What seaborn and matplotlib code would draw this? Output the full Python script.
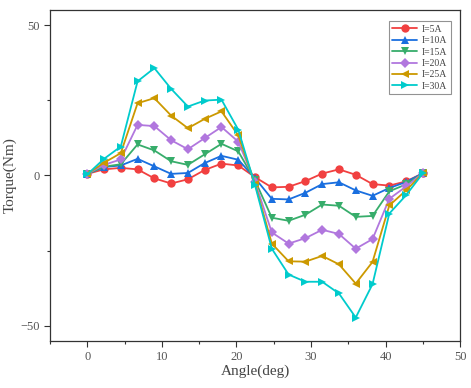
import numpy as np
import pandas as pd
import matplotlib
matplotlib.use("Agg")
import matplotlib.pyplot as plt
from matplotlib.ticker import MultipleLocator
import seaborn as sns

# Rotor angle (deg), 21 samples
angle = [0, 2.25, 4.5, 6.75, 9, 11.25, 13.5, 15.75, 18, 20.25, 22.5,
         24.75, 27, 29.25, 31.5, 33.75, 36, 38.25, 40.5, 42.75, 45]

# Torque (Nm) for each phase current
t_5a = [0.5, 2.0, 2.5, 2.0, -1.0, -2.7, -1.3, 1.8, 3.9, 3.3, -0.6,
        -4.0, -3.8, -1.9, 0.6, 2.0, 0.2, -2.9, -3.4, -2.0, 0.7]
t_10a = [0.5, 2.8, 3.3, 5.5, 3.0, 0.5, 0.8, 4.1, 6.5, 5.2, -0.9,
         -7.8, -8.0, -5.8, -2.9, -2.3, -5.0, -6.8, -4.2, -2.2, 0.7]
t_15a = [0.5, 2.9, 3.7, 10.3, 8.3, 4.7, 3.5, 7.0, 10.5, 8.0, -1.7,
         -14.1, -15.1, -13.1, -9.7, -10.1, -13.8, -13.5, -5.3, -3.0, 0.7]
t_20a = [0.5, 3.5, 5.3, 16.8, 16.4, 11.7, 8.7, 12.4, 16.1, 11.2, -2.2,
         -19.0, -22.7, -20.9, -18.1, -19.5, -24.4, -21.2, -7.8, -3.7, 0.7]
t_25a = [0.5, 4.2, 7.4, 24.0, 25.7, 19.9, 15.7, 18.8, 21.3, 13.3, -2.8,
         -22.7, -28.6, -28.7, -26.8, -29.6, -36.0, -28.8, -10.0, -5.0, 0.7]
t_30a = [0.3, 5.5, 9.6, 31.3, 35.7, 28.8, 22.9, 24.9, 25.2, 15.2, -3.3,
         -24.4, -33.0, -35.4, -35.4, -39.3, -47.3, -36.2, -12.7, -6.6, 0.7]

labels = ["I=5A", "I=10A", "I=15A", "I=20A", "I=25A", "I=30A"]
series = [t_5a, t_10a, t_15a, t_20a, t_25a, t_30a]

colors = ["#F14040", "#1A6FDF", "#37AD6B", "#B177DE", "#CC9900", "#00CBCC"]
markers = ["o", "^", "v", "D", "<", ">"]
sizes = [6, 6, 6, 5, 6, 6]

df = pd.concat(
    [pd.DataFrame({"angle": angle, "torque": s, "I": lab}) for lab, s in zip(labels, series)],
    ignore_index=True,
)

sns.set_style("ticks")
plt.rcParams["font.family"] = ["Liberation Serif", "DejaVu Serif"]

fig = plt.figure(figsize=(4.71, 3.88), dpi=100)
ax = fig.add_axes([0.106, 0.122, 0.871, 0.852])

for lab, col, mk, ms in zip(labels, colors, markers, sizes):
    sub = df[df["I"] == lab]
    sns.lineplot(data=sub, x="angle", y="torque", ax=ax, color=col, marker=mk,
                 markersize=ms, markeredgewidth=0, linewidth=1.3, label=lab)

ax.set_xlim(-5, 50)
ax.set_ylim(-55, 55)
ax.xaxis.set_major_locator(MultipleLocator(10))
ax.xaxis.set_minor_locator(MultipleLocator(5))
ax.yaxis.set_major_locator(MultipleLocator(50))
ax.yaxis.set_minor_locator(MultipleLocator(25))
ax.tick_params(which="major", direction="out", length=4, width=0.8, labelsize=9,
               colors="#333333", labelcolor="#555555")
ax.tick_params(which="minor", direction="out", length=2.5, width=0.8, colors="#333333")
for sp in ax.spines.values():
    sp.set_linewidth(0.9)
    sp.set_color("#333333")

ax.set_xlabel("Angle(deg)", fontsize=11, color="#444444", labelpad=1)
ax.set_ylabel("Torque(Nm)", fontsize=11, color="#444444", labelpad=2)

leg = ax.legend(loc="upper right", bbox_to_anchor=(0.982, 0.972), fontsize=7,
                frameon=True, fancybox=False, edgecolor="#777777",
                handlelength=2.6, handletextpad=0.5, borderpad=0.35,
                labelspacing=0.25, borderaxespad=0.2)
leg.get_frame().set_linewidth(0.8)
for t in leg.get_texts():
    t.set_color("#444444")

fig.savefig("out.png", dpi=100)
